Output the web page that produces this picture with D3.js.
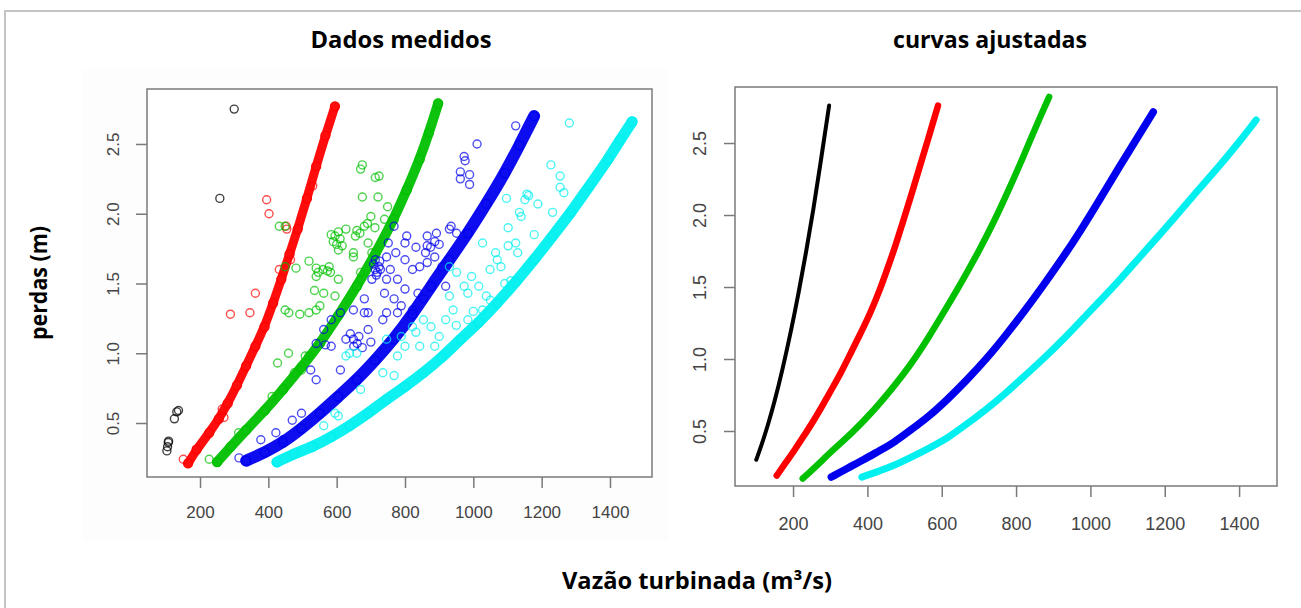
<!DOCTYPE html>
<html><head><meta charset="utf-8">
<script src="https://cdn.jsdelivr.net/npm/d3@7"></script>
<style>body{margin:0;background:#fff}svg{display:block}</style>
</head><body>
<svg id="chart" width="1301" height="608"></svg>
<script>
// ---------- DATA ----------
const xTicks = [200, 400, 600, 800, 1000, 1200, 1400];
const yTicks = [0.5, 1.0, 1.5, 2.0, 2.5];
const panelTitles = ["Dados medidos", "curvas ajustadas"];
const xTitle = "Vazão turbinada (m³/s)";
const yTitle = "perdas (m)";
const seriesNames = ["black", "red", "green", "blue", "cyan"];

// Left panel: measured data. Dense band (main trend of each series) + scattered points
const bandRed   = [[165,0.21],[190,0.31],[227,0.43],[255,0.53],[281,0.64],[308,0.77],[335,0.91],[362,1.05],[389,1.19],[414,1.36],[438,1.53],[462,1.71],[486,1.89],[513,2.11],[540,2.34],[567,2.56],[595,2.77]];
const bandGreen = [[250,0.22],[290,0.33],[335,0.45],[390,0.59],[443,0.74],[497,0.90],[551,1.07],[605,1.27],[659,1.48],[713,1.71],[767,1.96],[805,2.17],[843,2.39],[870,2.58],[897,2.79]];
const bandBlue  = [[335,0.23],[390,0.29],[443,0.36],[497,0.46],[551,0.57],[605,0.69],[659,0.81],[713,0.95],[767,1.10],[822,1.28],[876,1.48],[930,1.67],[984,1.86],[1038,2.07],[1092,2.29],[1135,2.49],[1178,2.70]];
const bandCyan  = [[425,0.22],[475,0.28],[530,0.33],[584,0.40],[638,0.48],[692,0.57],[746,0.67],[800,0.76],[854,0.86],[908,0.97],[962,1.10],[1016,1.22],[1070,1.36],[1124,1.51],[1178,1.67],[1232,1.84],[1286,2.01],[1340,2.20],[1395,2.39],[1430,2.53],[1465,2.66]];

const ptsBlack = [[103,0.30],[105,0.33],[107,0.36],[108,0.37],[125,0.53],[132,0.58],[137,0.59],[258,2.11],[300,2.75]];
const ptsRed   = [[395,2.10],[402,2.00],[452,1.91],[454,1.89],[362,1.43],[346,1.29],[289,1.28],[270,0.54],[265,0.60],[151,0.24],[465,1.67],[432,1.60],[530,2.20]];
const ptsGreen = [[432,1.91],[449,1.91],[449,1.62],[481,1.61],[519,1.66],[540,1.61],[546,1.58],[573,1.59],[562,1.43],[449,1.31],[460,1.29],[492,1.28],[540,1.31],[551,1.34],[519,1.29],[584,1.85],[595,1.84],[605,1.87],[616,1.77],[605,1.74],[649,1.72],[670,2.32],[675,2.35],[713,2.26],[724,2.27],[675,2.12],[721,2.12],[749,2.05],[681,1.91],[659,1.88],[627,1.89],[692,1.79],[703,1.72],[740,1.96],[670,1.58],[595,1.41],[605,1.53],[649,1.69],[459,1.00],[427,0.93],[497,0.88],[313,0.43],[227,0.24],[411,0.69],[508,0.98],[519,0.98],[476,0.86],[540,1.55],[535,1.45],[590,1.80],[600,1.78],[610,1.82],[578,1.62],[582,1.58],[560,1.60],[655,1.84],[668,1.86],[690,1.93],[700,1.98],[712,1.90]];
const ptsBlue  = [[1011,2.50],[1124,2.63],[973,2.41],[976,2.38],[962,2.30],[989,2.28],[989,2.21],[962,2.25],[935,1.91],[951,1.86],[892,1.86],[887,1.80],[865,1.77],[832,1.76],[805,1.84],[800,1.79],[768,1.91],[751,1.79],[746,1.69],[773,1.72],[800,1.67],[713,1.67],[724,1.62],[713,1.60],[719,1.58],[703,1.53],[746,1.53],[778,1.53],[822,1.60],[843,1.62],[865,1.65],[887,1.69],[908,1.62],[919,1.48],[838,1.43],[800,1.46],[768,1.39],[740,1.43],[681,1.39],[649,1.31],[611,1.29],[584,1.24],[562,1.17],[540,1.07],[567,1.06],[584,1.05],[627,1.10],[649,1.10],[665,1.12],[692,1.17],[735,1.24],[746,1.29],[692,1.29],[681,1.29],[778,1.29],[789,1.34],[822,1.31],[854,1.39],[524,0.88],[611,0.88],[540,0.81],[443,0.38],[497,0.57],[470,0.52],[422,0.43],[378,0.38],[314,0.25],[865,1.84],[930,1.89],[708,1.64],[716,1.56],[726,1.66],[728,1.60],[640,1.14],[650,1.05],[660,1.07],[675,1.04],[700,1.08],[757,1.60],[860,1.72],[875,1.76],[900,1.78]];
const ptsCyan  = [[1281,2.65],[1227,2.35],[1254,2.27],[1254,2.19],[1265,2.15],[1189,2.07],[1097,2.11],[1157,2.14],[1151,2.10],[1162,2.13],[1135,2.01],[1140,1.98],[1102,1.90],[1027,1.79],[995,1.55],[1016,1.48],[1065,1.72],[1070,1.67],[1102,1.77],[1124,1.79],[1130,1.72],[1049,1.60],[1081,1.62],[1092,1.50],[973,1.48],[930,1.62],[951,1.58],[984,1.43],[941,1.31],[984,1.24],[1027,1.31],[919,1.24],[876,1.19],[832,1.15],[789,1.12],[746,1.10],[800,1.05],[843,1.05],[887,1.05],[822,1.19],[854,1.24],[778,0.98],[735,0.86],[768,0.84],[627,0.98],[638,1.00],[659,1.00],[595,0.57],[605,0.55],[562,0.48],[670,0.74],[1232,2.01],[1178,1.85],[1038,1.41],[930,1.41],[900,1.12],[950,1.20],[1000,1.30],[1050,1.38],[1110,1.52],[1160,1.62]];

// Right panel: fitted curves
const fitBlack = [[101,0.30],[115,0.40],[131,0.53],[150,0.70],[172,0.93],[195,1.20],[215,1.46],[235,1.74],[255,2.04],[275,2.38],[297,2.76]];
const fitRed   = [[156,0.19],[180,0.28],[205,0.37],[230,0.47],[255,0.57],[280,0.68],[304,0.79],[330,0.91],[353,1.03],[382,1.18],[410,1.33],[435,1.49],[457,1.65],[476,1.79],[494,1.94],[516,2.12],[539,2.32],[565,2.54],[590,2.76]];
const fitGreen = [[226,0.17],[260,0.25],[308,0.37],[360,0.49],[411,0.625],[462,0.78],[514,0.95],[565,1.15],[616,1.37],[657,1.55],[698,1.74],[740,1.95],[781,2.18],[812,2.36],[843,2.55],[868,2.70],[889,2.82]];
const fitBlue  = [[303,0.18],[345,0.24],[390,0.30],[430,0.36],[472,0.42],[518,0.51],[565,0.60],[616,0.72],[668,0.855],[720,1.00],[771,1.16],[822,1.33],[873,1.51],[925,1.70],[976,1.90],[1028,2.12],[1079,2.34],[1125,2.53],[1169,2.715]];
const fitCyan  = [[385,0.18],[430,0.22],[472,0.26],[520,0.32],[565,0.38],[616,0.45],[668,0.55],[720,0.65],[771,0.76],[822,0.88],[873,1.00],[925,1.13],[976,1.27],[1028,1.41],[1079,1.55],[1130,1.70],[1182,1.85],[1233,2.00],[1285,2.16],[1340,2.32],[1395,2.49],[1446,2.66]];

// ---------- STYLE / LAYOUT ----------
const colors = {black:"#000000", red:"#ff0000", green:"#00c000", blue:"#0000ee", cyan:"#00f0f0"};
const axisColor = "#7a7a7a";
const labelColor = "#444";
const numFont = "'Liberation Sans', Arial, sans-serif";
const titleFont = "'Open Sans', Lato, sans-serif";

const svg = d3.select("#chart");

svg.append("rect").attr("x", 5).attr("y", 11).attr("width", 1310).attr("height", 620)
  .attr("fill", "none").attr("stroke", "#c4c4c4").attr("stroke-width", 2);
svg.append("rect").attr("x", 83).attr("y", 69).attr("width", 585).attr("height", 472).attr("fill", "#fdfdfd");

function makePanel(cfg) {
  const x = d3.scaleLinear().domain(cfg.xDomain).range([cfg.left, cfg.right]);
  const y = d3.scaleLinear().domain(cfg.yDomain).range([cfg.bottom, cfg.top]);
  const g = svg.append("g");
  g.append("rect").attr("x", cfg.left).attr("y", cfg.top)
    .attr("width", cfg.right - cfg.left).attr("height", cfg.bottom - cfg.top)
    .attr("fill", "#fff").attr("stroke", axisColor).attr("stroke-width", 1.5);

  const xa = g.append("g").attr("transform", `translate(0,${cfg.bottom})`)
    .call(d3.axisBottom(x).tickValues(xTicks).tickSize(11).tickPadding(cfg.xPad).tickFormat(d3.format("d")));
  const ya = g.append("g").attr("transform", `translate(${cfg.left},0)`)
    .call(d3.axisLeft(y).tickValues(yTicks).tickSize(11).tickFormat(d3.format(".1f")));
  [xa, ya].forEach(a => {
    a.select(".domain").remove();
    a.selectAll("line").attr("stroke", axisColor).attr("stroke-width", 1.5);
    a.selectAll("text").attr("fill", labelColor).style("font-family", numFont).style("font-size", cfg.fontSize + "px");
  });
  ya.selectAll("text").attr("transform", "rotate(-90)").attr("x", 0).attr("y", -cfg.yLabelOff)
    .attr("dy", 0).attr("text-anchor", "middle");
  return {g, x, y};
}

// ---------- LEFT PANEL ----------
const L = makePanel({left:147, right:652, top:89, bottom:477, xDomain:[44.8,1523], yDomain:[0.113,2.894], xPad:18, fontSize:17, yLabelOff:28});
const lineL = d3.line().x(d => L.x(d[0])).y(d => L.y(d[1])).curve(d3.curveBasis);
const leftSeries = [
  {name:"black", band:null, pts:ptsBlack, w:0},
  {name:"red", band:bandRed, pts:ptsRed, w:9},
  {name:"green", band:bandGreen, pts:ptsGreen, w:10},
  {name:"blue", band:bandBlue, pts:ptsBlue, w:12},
  {name:"cyan", band:bandCyan, pts:ptsCyan, w:11}
];
svg.append("clipPath").attr("id", "clipL").append("rect")
  .attr("x", 148).attr("y", 90).attr("width", 503).attr("height", 386);
const plotL = L.g.append("g").attr("clip-path", "url(#clipL)");
leftSeries.forEach(s => {
  const c = colors[s.name];
  plotL.append("g").selectAll("circle").data(s.pts).join("circle")
    .attr("cx", d => L.x(d[0])).attr("cy", d => L.y(d[1])).attr("r", 4)
    .attr("fill", "none").attr("stroke", c).attr("stroke-width", 1.4).attr("stroke-opacity", s.name === "black" ? 0.75 : 0.7);
  if (s.band) {
    plotL.append("path").datum(s.band).attr("d", lineL).attr("fill", "none")
      .attr("stroke", c).attr("stroke-width", s.w).attr("stroke-linecap", "round").attr("stroke-opacity", 0.95);
    plotL.append("g").selectAll("circle").data(s.band).join("circle")
      .attr("cx", d => L.x(d[0])).attr("cy", d => L.y(d[1])).attr("r", 4.5)
      .attr("fill", "none").attr("stroke", c).attr("stroke-width", 1.3);
  }
});

// ---------- RIGHT PANEL ----------
const R = makePanel({left:735, right:1277, top:87, bottom:486, xDomain:[43.8,1502], yDomain:[0.118,2.889], xPad:20, fontSize:18, yLabelOff:29});
const lineR = d3.line().x(d => R.x(d[0])).y(d => R.y(d[1])).curve(d3.curveBasis);
const fits = [
  {name:"black", data:fitBlack, w:4},
  {name:"red", data:fitRed, w:6.5},
  {name:"green", data:fitGreen, w:6.5},
  {name:"blue", data:fitBlue, w:7.5},
  {name:"cyan", data:fitCyan, w:7}
];
fits.forEach(f => {
  R.g.append("path").datum(f.data).attr("d", lineR).attr("fill", "none")
    .attr("stroke", colors[f.name]).attr("stroke-width", f.w)
    .attr("stroke-linecap", "round").attr("stroke-linejoin", "round");
});

// ---------- TITLES ----------
const titleStyle = sel => sel.style("font-family", titleFont).style("font-weight", "bold")
  .attr("fill", "#000").attr("lengthAdjust", "spacingAndGlyphs");
svg.append("text").attr("x", 401).attr("y", 48).attr("text-anchor", "middle")
  .style("font-size", "23px").attr("textLength", 181).text(panelTitles[0]).call(titleStyle);
svg.append("text").attr("x", 990).attr("y", 48).attr("text-anchor", "middle")
  .style("font-size", "23px").attr("textLength", 194).text(panelTitles[1]).call(titleStyle);
svg.append("text").attr("x", 697).attr("y", 589).attr("text-anchor", "middle")
  .style("font-size", "23px").attr("textLength", 270).text(xTitle).call(titleStyle);
svg.append("text").attr("transform", "translate(47,283) rotate(-90)").attr("text-anchor", "middle")
  .style("font-size", "23px").attr("textLength", 114).text(yTitle).call(titleStyle);
</script>
</body></html>
